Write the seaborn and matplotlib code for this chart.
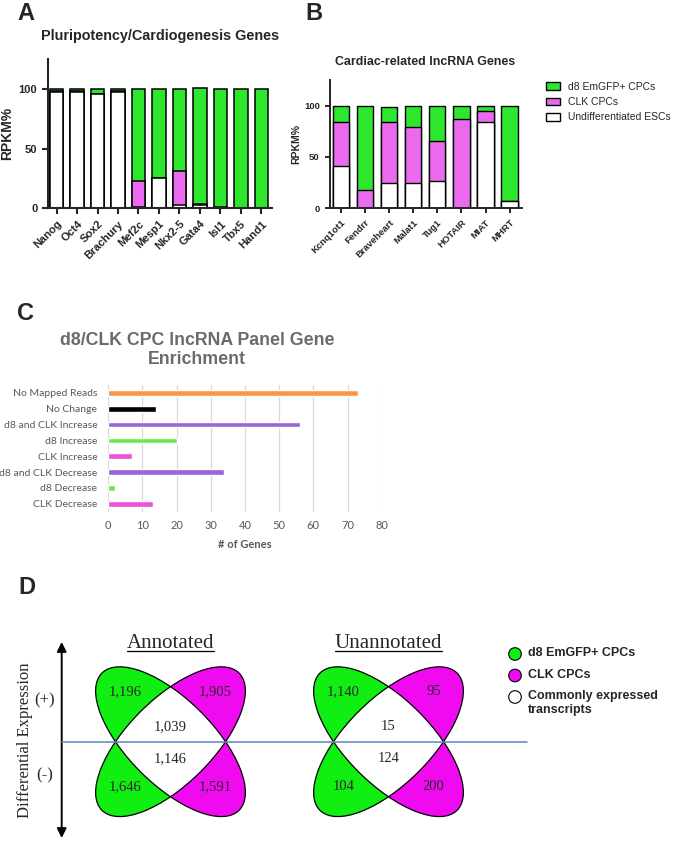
import numpy as np
import matplotlib
matplotlib.use("Agg")
import matplotlib.pyplot as plt
import seaborn as sns
from matplotlib.patches import Ellipse, Circle, Rectangle, Patch

sns.set_style("ticks")
plt.rcParams['font.family'] = ['Liberation Sans', 'DejaVu Sans']

# ---- panel A data (RPKM %) ----
genes_a = ["Nanog", "Oct4", "Sox2", "Brachury", "Mef2c", "Mesp1", "Nkx2-5", "Gata4", "Isl1", "Tbx5", "Hand1"]
esc_a = [97.5, 97.5, 96, 97.5, 1, 25, 3, 2.5, 0.5, 0, 0]
clk_a = [0.5, 0.5, 0, 0.5, 22, 0, 28, 1.5, 0.5, 0, 0]
d8_a = [2, 2, 4, 2, 77, 75, 69, 97, 99, 100, 100]

# ---- panel B data (RPKM %) ----
genes_b = ["Kcnq1ot1", "Fendrr", "Braveheart", "Malat1", "Tug1", "HOTAIR", "MIAT", "MHRT"]
esc_b = [41, 0.5, 25, 25, 27, 0, 84, 7.5]
clk_b = [43, 17.5, 59, 54, 39, 87, 11, 0]
d8_b = [16, 82, 15, 21, 34, 13, 5, 92.5]

# ---- panel C data ----
cats_c = ["No Mapped Reads", "No Change", "d8 and CLK Increase", "d8 Increase",
          "CLK Increase", "d8 and CLK Decrease", "d8 Decrease", "CLK Decrease"]
genes_c = [73, 14, 56, 20, 7, 34, 2, 13]
colors_c = ["#f6964a", "#000000", "#9b64d4", "#6ee84a", "#ee52d6", "#9b64d4", "#6ee84a", "#ee52d6"]

# ---- panel D data ----
venn_sets = ["Annotated", "Unannotated"]
d8_up = [1196, 1140]
clk_up = [1905, 95]
common_up = [1039, 15]
common_down = [1146, 124]
d8_down = [1646, 104]
clk_down = [1591, 200]

green = "#2de62d"
pink = "#ea6bee"
vgreen = "#11ee11"
vpink = "#f00af0"

W, H = 675, 844
fig = plt.figure(figsize=(W / 100, H / 100), dpi=100)


def box(x0, y0, x1, y1):
    return [x0 / W, 1 - y1 / H, (x1 - x0) / W, (y1 - y0) / H]


def px(x, y):
    return x / W, 1 - y / H


def stacked(ax, names, esc, clk, d8, width, lw):
    esc = np.array(esc, dtype=float)
    mid = esc + np.array(clk)
    top = mid + np.array(d8)
    for vals, col in [(top, green), (mid, pink), (esc, "white")]:
        sns.barplot(x=names, y=vals, color=col, saturation=1, width=width,
                    edgecolor="black", linewidth=lw, ax=ax)


# panel A
axa = fig.add_axes(box(47.7, 59, 271.7, 208.3))
stacked(axa, genes_a, esc_a, clk_a, d8_a, 0.66, 1.1)
axa.set_xlim(-0.43, 10.5)
axa.set_ylim(0, 125)
axa.set_yticks([0, 50, 100])
sns.despine(ax=axa)
for s in ["left", "bottom"]:
    axa.spines[s].set_linewidth(1.5)
axa.tick_params(width=1.5, length=4, labelsize=8)
axa.set_xticks(range(len(genes_a)))
axa.set_xticklabels(genes_a, rotation=45, ha="right", rotation_mode="anchor", fontweight="bold")
for t in axa.get_yticklabels():
    t.set_fontweight("bold")
axa.set_ylabel("RPKM%", fontsize=10, fontweight="bold", labelpad=3)
fig.text(*px(160, 36), "Pluripotency/Cardiogenesis Genes", fontsize=10.4, fontweight="bold",
         ha="center", va="center")
fig.text(*px(26, 14), "A", fontsize=17, fontweight="bold", ha="center", va="center")

# panel B
axb = fig.add_axes(box(329.5, 80, 521.7, 208.3))
stacked(axb, genes_b, esc_b, clk_b, d8_b, 0.68, 1.0)
axb.set_xlim(-0.47, 7.5)
axb.set_ylim(0, 125)
axb.set_yticks([0, 50, 100])
sns.despine(ax=axb)
for s in ["left", "bottom"]:
    axb.spines[s].set_linewidth(1.4)
axb.tick_params(width=1.4, length=3.5, labelsize=6.8)
axb.set_xticks(range(len(genes_b)))
axb.set_xticklabels(genes_b, rotation=45, ha="right", rotation_mode="anchor", fontweight="bold")
for t in axb.get_yticklabels():
    t.set_fontweight("bold")
axb.set_ylabel("RPKM%", fontsize=7.5, fontweight="bold", labelpad=2)
fig.text(*px(425, 61.7), "Cardiac-related lncRNA Genes", fontsize=8.9, fontweight="bold",
         ha="center", va="center")
fig.text(*px(313.5, 14), "B", fontsize=17, fontweight="bold", ha="center", va="center")
handles = [Patch(facecolor=green, edgecolor="black", linewidth=1),
           Patch(facecolor=pink, edgecolor="black", linewidth=1),
           Patch(facecolor="white", edgecolor="black", linewidth=1)]
axb.legend(handles, ["d8 EmGFP+ CPCs", "CLK CPCs", "Undifferentiated ESCs"],
           loc="upper left", bbox_to_anchor=px(546, 82), bbox_transform=fig.transFigure,
           frameon=False, fontsize=7.5, handlelength=1.35, handleheight=0.77,
           handletextpad=0.75, labelspacing=0.5, borderpad=0, borderaxespad=0)

# panel C
axc = fig.add_axes(box(108.3, 385, 381.7, 511.6))
sns.barplot(x=genes_c, y=cats_c, hue=cats_c, palette=colors_c, legend=False, orient="h",
            width=0.36, saturation=1, ax=axc)
axc.set_xlim(0, 80)
axc.set_xticks(range(0, 81, 10))
axc.set_axisbelow(True)
axc.xaxis.grid(True, color="#d9d9d9", linewidth=0.9)
for s in axc.spines.values():
    s.set_visible(False)
axc.tick_params(length=0, labelcolor="#595959")
axc.tick_params(axis="y", pad=8, labelsize=7.5)
axc.tick_params(axis="x", pad=6, labelsize=8)
for t in axc.get_xticklabels() + axc.get_yticklabels():
    t.set_fontfamily("Lato")
axc.set_xlabel("")
axc.set_ylabel("")
fig.text(*px(245, 545), "# of Genes", fontsize=8, fontweight="bold", color="#595959",
         family="Lato", ha="center", va="center")
fig.text(*px(197, 350), "d8/CLK CPC lncRNA Panel Gene\nEnrichment", fontsize=12.8,
         fontweight="bold", color="#6b6b6b", ha="center", va="center", linespacing=1.15)
fig.text(*px(25, 313), "C", fontsize=17, fontweight="bold", ha="center", va="center")

# panel D
axd = fig.add_axes([0, 0, 1, 284 / H])
axd.set_xlim(0, W)
axd.set_ylim(H, 560)
axd.axis("off")
cy = 741.7
serif = "Liberation Serif"
for i, cx in enumerate([170.5, 388.5]):
    for ang in (45, -45):
        for side, col in [(-1, vgreen), (1, vpink)]:
            e = Ellipse((cx, cy), 194, 85, angle=ang, facecolor=col, edgecolor="none", zorder=2)
            axd.add_patch(e)
            clip = Rectangle((cx if side > 0 else cx - 150, cy - 150), 150, 300,
                             transform=axd.transData)
            e.set_clip_path(clip)
    inner = Ellipse((cx, cy), 194, 85, angle=45, facecolor="white", edgecolor="none", zorder=3)
    axd.add_patch(inner)
    inner.set_clip_path(Ellipse((cx, cy), 194, 85, angle=-45, transform=axd.transData))
    for ang in (45, -45):
        axd.add_patch(Ellipse((cx, cy), 194, 85, angle=ang, facecolor="none",
                              edgecolor="black", linewidth=0.9, zorder=4))
    fmt = lambda n: f"{n:,}"
    axd.text(cx - 45, cy - 50, fmt(d8_up[i]), family=serif, fontsize=10.5, ha="center", va="center", zorder=6)
    axd.text(cx + 45, cy - 50, fmt(clk_up[i]), family=serif, fontsize=10.5, ha="center", va="center", zorder=6)
    axd.text(cx, cy - 15, fmt(common_up[i]), family=serif, fontsize=10.5, ha="center", va="center", zorder=6)
    axd.text(cx, cy + 17, fmt(common_down[i]), family=serif, fontsize=10.5, ha="center", va="center", zorder=6)
    axd.text(cx - 45, cy + 45, fmt(d8_down[i]), family=serif, fontsize=10.5, ha="center", va="center", zorder=6)
    axd.text(cx + 45, cy + 45, fmt(clk_down[i]), family=serif, fontsize=10.5, ha="center", va="center", zorder=6)
    t = axd.text(cx, 648, venn_sets[i], family=serif, fontsize=15, ha="center", va="baseline")
    fig.canvas.draw()
    bb = t.get_window_extent()
    inv = axd.transData.inverted()
    (x0, _), (x1, _) = inv.transform([[bb.x0, bb.y0], [bb.x1, bb.y1]])
    axd.plot([x0, x1], [650.5, 650.5], color="black", linewidth=0.9)

axd.plot([62, 527], [cy, cy], color="#5b84c0", linewidth=1.1, zorder=5)
axd.annotate("", xy=(61.7, 642), xytext=(61.7, 838),
             arrowprops=dict(arrowstyle="<|-|>", color="black", lw=1.4, mutation_scale=14,
                             shrinkA=0, shrinkB=0))
axd.text(25, 740, "Differential Expression", family=serif, fontsize=12, rotation=90,
         ha="center", va="center")
axd.text(45, 700, "(+)", family=serif, fontsize=12, ha="center", va="center")
axd.text(45, 775, "(-)", family=serif, fontsize=12, ha="center", va="center")

leg = [("d8 EmGFP+ CPCs", vgreen), ("CLK CPCs", vpink), ("Commonly expressed\ntranscripts", "white")]
for j, (lab, col) in enumerate(leg):
    yy = 654 + 21.5 * j
    axd.add_patch(Circle((515, yy), 6.3, facecolor=col, edgecolor="black", linewidth=0.8))
    axd.text(528, yy - 7, lab, fontsize=9, fontweight="bold", ha="left", va="top", linespacing=1.2)

fig.text(*px(27, 588), "D", fontsize=17, fontweight="bold", ha="center", va="center")

fig.savefig("out.png", dpi=100)
